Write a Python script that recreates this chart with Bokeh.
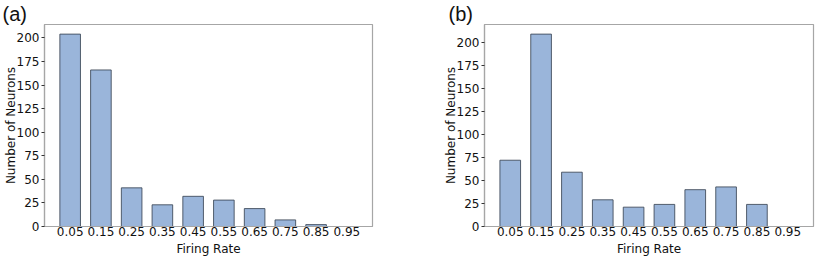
import numpy as np
from bokeh.plotting import figure
from bokeh.layouts import row
from bokeh.models import Range1d, FixedTicker, Title
from bokeh.embed import file_html
from bokeh.resources import INLINE

bins = ["0.05", "0.15", "0.25", "0.35", "0.45", "0.55", "0.65", "0.75", "0.85", "0.95"]
counts_a = [204, 166, 41, 23, 32, 28, 19, 7, 2, 0]
counts_b = [72, 209, 59, 29, 21, 24, 40, 43, 24, 0]
y_ticks = [0, 25, 50, 75, 100, 125, 150, 175, 200]
x_title = "Firing Rate"
y_title = "Number of Neurons"

FILL = "#9ab5da"
EDGE = "#3b4656"
SPINE = "#a6a6a6"
FONT = "DejaVu Sans"
H = 257


def make_panel(counts, tag, width, border_r, tag_offset):
    xs = np.arange(len(bins))
    p = figure(
        output_backend="svg", toolbar_location=None,
        width=width, height=H,
        min_border_left=42, min_border_right=border_r,
        min_border_top=18, min_border_bottom=28,
        x_range=Range1d(-0.835, len(bins) - 1 + 0.835),
        y_range=Range1d(0, max(counts) * 1.05),
    )
    p.vbar(x=xs, top=counts, width=0.67, bottom=0,
           fill_color=FILL, line_color=EDGE, line_alpha=0.85, line_width=1)
    p.grid.visible = False
    p.outline_line_color = SPINE
    p.outline_line_width = 1.2
    p.background_fill_color = "white"
    p.border_fill_color = "white"

    p.xaxis.ticker = FixedTicker(ticks=list(xs))
    p.xaxis.major_label_overrides = {int(i): b for i, b in zip(xs, bins)}
    p.yaxis.ticker = FixedTicker(ticks=y_ticks)
    for ax in (p.xaxis, p.yaxis):
        ax.axis_line_color = SPINE
        ax.axis_line_width = 1.2
        ax.minor_tick_line_color = None
        ax.major_label_text_font = FONT
        ax.major_label_text_font_size = "12px"
        ax.major_label_text_color = "#111111"
        ax.axis_label_text_font = FONT
        ax.axis_label_text_font_size = "12px"
        ax.axis_label_text_font_style = "normal"
        ax.axis_label_text_color = "#111111"
    p.xaxis.major_tick_line_color = None
    p.xaxis.major_tick_out = 0
    p.xaxis.major_tick_in = 0
    p.xaxis.major_label_standoff = 0
    p.yaxis.major_tick_line_color = "#333333"
    p.yaxis.major_tick_out = 3
    p.yaxis.major_tick_in = 0
    p.yaxis.major_label_standoff = 2
    p.yaxis.axis_label_standoff = -4
    p.yaxis.axis_label = y_title

    # x-axis title as a compact title below the axis
    p.add_layout(Title(text=x_title, align="center", text_font=FONT,
                       text_font_size="12px", text_font_style="normal",
                       text_color="#111111", standoff=3), "below")

    p.title.text = tag
    p.title.text_font = "Liberation Sans"
    p.title.text_font_size = "20px"
    p.title.text_font_style = "normal"
    p.title.text_color = "#111111"
    p.title.align = "left"
    p.title.offset = tag_offset
    p.title.standoff = 0
    return p


pa = make_panel(counts_a, "(a)", 440, 68, -42)
pb = make_panel(counts_b, "(b)", 375, 2, -36)
layout = row(pa, pb, spacing=0)

open("out.html", "w").write(file_html(layout, INLINE))
